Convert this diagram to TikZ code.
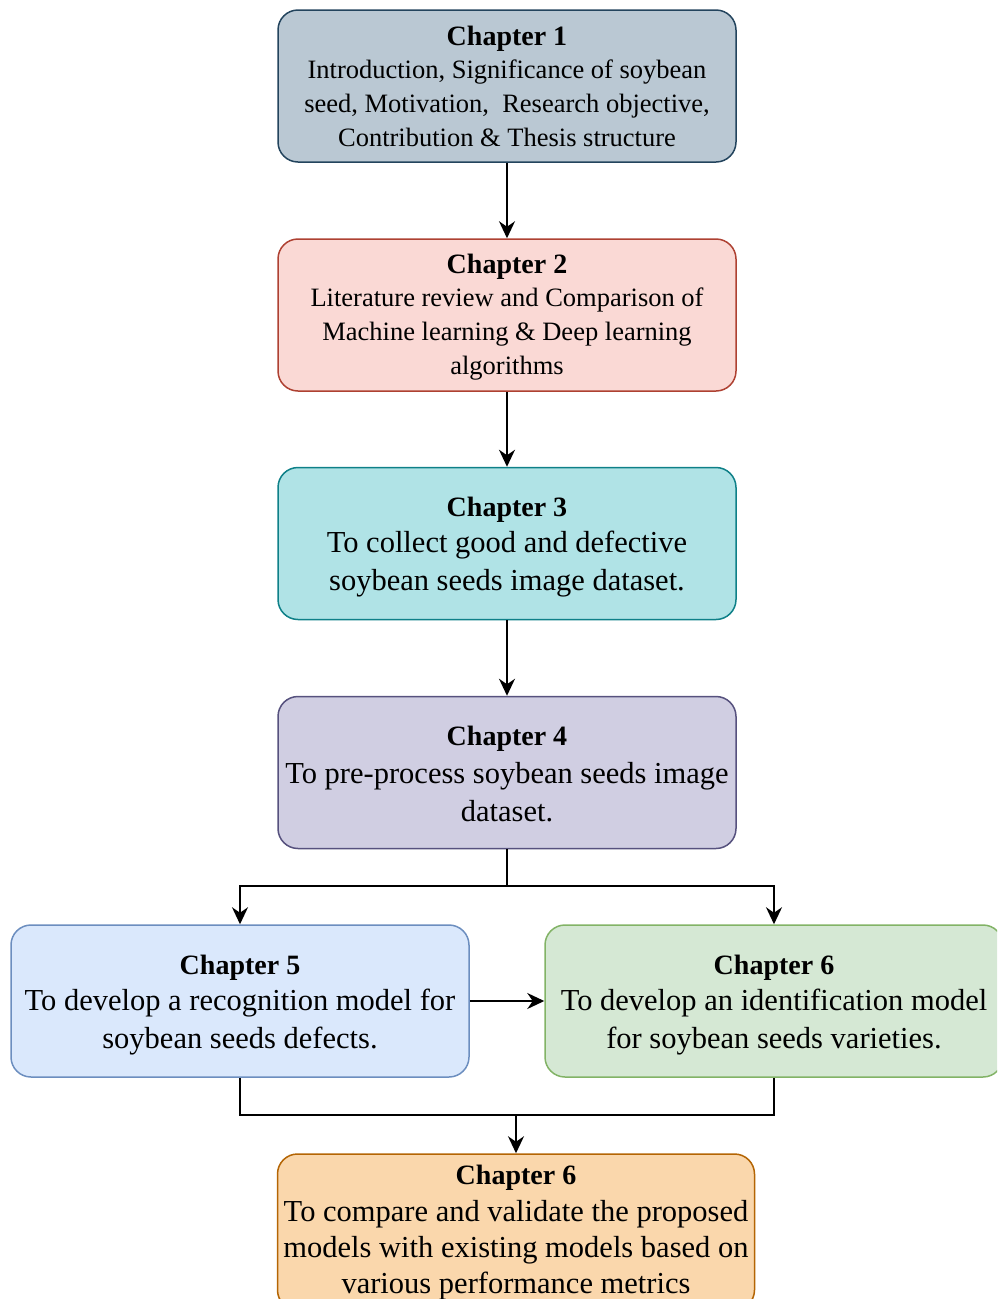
\documentclass[tikz,border=0pt]{standalone}
\usepackage{fontspec}
\setmainfont{Liberation Serif}
\usetikzlibrary{arrows.meta}

\definecolor{oneFill}{HTML}{BAC8D3}\definecolor{oneDraw}{HTML}{23445D}
\definecolor{twoFill}{HTML}{FAD9D5}\definecolor{twoDraw}{HTML}{AE4132}
\definecolor{threeFill}{HTML}{B0E3E6}\definecolor{threeDraw}{HTML}{0E8088}
\definecolor{fourFill}{HTML}{D0CEE2}\definecolor{fourDraw}{HTML}{56517E}
\definecolor{fiveFill}{HTML}{DAE8FC}\definecolor{fiveDraw}{HTML}{6C8EBF}
\definecolor{sixFill}{HTML}{D5E8D4}\definecolor{sixDraw}{HTML}{82B366}
\definecolor{sevenFill}{HTML}{FAD7AC}\definecolor{sevenDraw}{HTML}{B46504}

% bold heading line; the optional strut height pads the top of the text block
\newcommand{\chaptitle}[2][0pt]{\fontsize{28}{34}\selectfont\bfseries\rule{0pt}{#1}#2}

\begin{document}
\begin{tikzpicture}[x=1pt,y=-1pt,
  chap/.style={draw, rounded corners=20pt, line width=1.5pt, align=center,
    inner sep=0pt, minimum width=458pt, minimum height=152pt},
  small/.style={font=\fontsize{26.5}{34}\selectfont},
  large/.style={font=\fontsize{30.5}{38}\selectfont},
  conn/.style={line width=1.6pt, -{Stealth[length=17pt,width=16pt,inset=5.5pt]}},
  link/.style={line width=1.6pt}]
\useasboundingbox (0,0) rectangle (997,1299);
\clip (0,0) rectangle (997,1299);

% chapter boxes
\node[chap, small, fill=oneFill, draw=oneDraw] (c1) at (507,86)
  {\chaptitle{Chapter 1}\\[-1pt]
   Introduction, Significance of soybean\\
   seed, Motivation,\ \ Research objective,\\
   Contribution \& Thesis structure};
\node[chap, small, fill=twoFill, draw=twoDraw] (c2) at (507,315)
  {\chaptitle[24pt]{Chapter 2}\\[-1pt]
   Literature review and Comparison of\\
   Machine learning \& Deep learning\\
   algorithms};
\node[chap, large, fill=threeFill, draw=threeDraw] (c3) at (507,543.5)
  {\chaptitle[26pt]{Chapter 3}\\[-2pt]
   To collect good and defective\\
   soybean seeds image dataset.};
\node[chap, large, fill=fourFill, draw=fourDraw] (c4) at (507,772.5)
  {\chaptitle[22pt]{Chapter 4}\\[0pt]
   To pre-process soybean seeds image\\
   dataset.};
\node[chap, large, fill=fiveFill, draw=fiveDraw] (c5) at (240,1001)
  {\chaptitle[28pt]{Chapter 5}\\[-2pt]
   To develop a recognition model for\\
   soybean seeds defects.};
\node[chap, large, fill=sixFill, draw=sixDraw] (c6) at (774,1001)
  {\chaptitle[28pt]{Chapter 6}\\[-2pt]
   To develop an identification model\\
   for soybean seeds varieties.};
\node[chap, font=\fontsize{30.5}{36}\selectfont, fill=sevenFill, draw=sevenDraw,
  minimum width=477pt, minimum height=156pt] (c7) at (516,1232)
  {\chaptitle[21pt]{Chapter 6}\\[1pt]
   To compare and validate the proposed\\
   models with existing models based on\\
   various performance metrics};

% routing points
\coordinate (fork) at (507,886);
\coordinate (join) at (516,1115);

% connectors
\draw[conn] (c1) -- (c2);
\draw[conn] (c2) -- (c3);
\draw[conn] (c3) -- (c4);
\draw[link] (c4.south) -- (fork);
\draw[conn] (fork) -| (c5.north);
\draw[conn] (fork) -| (c6.north);
\draw[conn] (c5.east) -- (c6.west);
\draw[link] (c5.south) |- (join) -| (c6.south);
\draw[conn] (join) -- (c7.north);
\end{tikzpicture}
\end{document}
